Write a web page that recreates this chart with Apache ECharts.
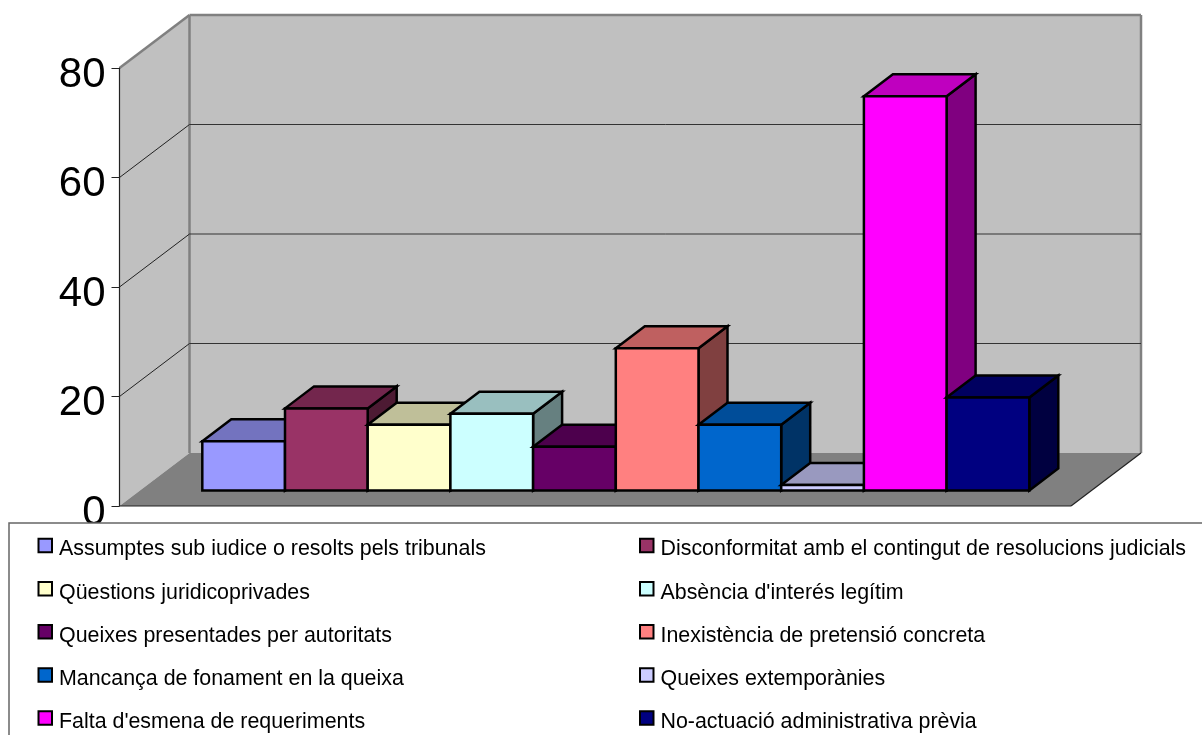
<!DOCTYPE html>
<html><head><meta charset="utf-8">
<style>html,body{margin:0;padding:0;background:#fff}#c{width:1202px;height:735px}</style>
<script src="https://cdn.jsdelivr.net/npm/echarts@6/dist/echarts.min.js"></script>
</head><body><div id="c"></div>
<script>
const categories = ["Assumptes sub iudice o resolts pels tribunals","Disconformitat amb el contingut de resolucions judicials","Qüestions juridicoprivades","Absència d'interés legítim","Queixes presentades per autoritats","Inexistència de pretensió concreta","Mancança de fonament en la queixa","Queixes extemporànies","Falta d'esmena de requeriments","No-actuació administrativa prèvia"];
const values = [9,15,12,14,8,26,12,1,72,17];
const colors = ["#9999FF","#993366","#FFFFCC","#CCFFFF","#660066","#FF8080","#0066CC","#CCCCFF","#FF00FF","#000080"];
const yTicks = [0,20,40,60,80];

const FONT = '"Liberation Sans", Arial, sans-serif';
const BAR_DX = 29, BAR_DY = -22, WALL_DX = 70, WALL_DY = -53;

function shade(hex, k){
  const n = parseInt(hex.slice(1),16);
  const c = [(n>>16)&255,(n>>8)&255,n&255].map(v=>Math.round(v*k));
  return 'rgb('+c.join(',')+')';
}
function barItem(color){
  return function(params, api){
    const v = api.value(1), i = api.value(0);
    const base = api.coord([i,0]), top = api.coord([i,v]);
    const w = api.size([1,0])[0];
    const l = base[0]-w/2, r = base[0]+w/2, b = base[1], t = top[1];
    const edge = {stroke:'#000',lineWidth:2.5,lineJoin:'miter',miterLimit:10};
    const poly = (pts,fill)=>({type:'polygon',shape:{points:pts},style:Object.assign({fill},edge)});
    return {type:'group',children:[
      poly([[r,b],[r+BAR_DX,b+BAR_DY],[r+BAR_DX,t+BAR_DY],[r,t]],shade(color,0.5)),
      poly([[l,t],[l+BAR_DX,t+BAR_DY],[r+BAR_DX,t+BAR_DY],[r,t]],shade(color,0.75)),
      poly([[l,b],[r,b],[r,t],[l,t]],color)
    ]};
  };
}
function wallItem(params, api){
  const v = api.value(0);
  const p = api.coord([0,v]), q = api.coord([1,v]);
  const line = (x1,y1,x2,y2,stroke,lw)=>({type:'line',shape:{x1,y1,x2,y2},style:{stroke,lineWidth:lw}});
  const children = [];
  if(v===0){
    const t = api.coord([0,80]);
    const dx=WALL_DX, dy=WALL_DY;
    children.push({type:'polygon',shape:{points:[[p[0],p[1]],[p[0]+dx,p[1]+dy],[p[0]+dx,t[1]+dy],[t[0],t[1]]]},style:{fill:'#C0C0C0'}});
    children.push({type:'polygon',shape:{points:[[p[0]+dx,t[1]+dy],[q[0]+dx,t[1]+dy],[q[0]+dx,q[1]+dy],[p[0]+dx,p[1]+dy]]},style:{fill:'#C0C0C0'}});
    children.push({type:'polygon',shape:{points:[[p[0],p[1]],[q[0],q[1]],[q[0]+dx,q[1]+dy],[p[0]+dx,p[1]+dy]]},style:{fill:'#808080'}});
    children.push(line(t[0],t[1],t[0]+dx,t[1]+dy,'#808080',2.5));
    children.push(line(t[0]+dx,t[1]+dy,q[0]+dx,t[1]+dy,'#808080',2.5));
    children.push(line(p[0]+dx,t[1]+dy,p[0]+dx,p[1]+dy,'#808080',2.5));
    children.push(line(q[0]+dx,t[1]+dy,q[0]+dx,q[1]+dy,'#808080',2.5));
    children.push(line(p[0],p[1],q[0],q[1],'#222',1.2));
    children.push(line(q[0],q[1],q[0]+dx,q[1]+dy,'#222',1.2));
  } else if(v<80){
    children.push(line(p[0],p[1],p[0]+WALL_DX,p[1]+WALL_DY,'#222',1));
    children.push(line(p[0]+WALL_DX,p[1]+WALL_DY,q[0]+WALL_DX,p[1]+WALL_DY,'#333',1));
  }
  return {type:'group',children};
}

const barSeries = categories.map((name,i)=>({
  type:'custom', name, xAxisIndex:0, yAxisIndex:0, z:5,
  coordinateSystem:'cartesian2d',
  itemStyle:{color:colors[i],borderColor:'#000',borderWidth:2.5},
  encode:{x:0,y:1},
  data:[[i,values[i]]],
  renderItem:barItem(colors[i])
}));
const wallSeries = {
  type:'custom', xAxisIndex:1, yAxisIndex:1, z:1, silent:true,
  data: yTicks.map(v=>[v]), encode:{y:0},
  renderItem:wallItem
};
const legendBase = {
  orient:'vertical', icon:'rect', itemWidth:13.5, itemHeight:13.5, itemGap:16.65, z:20,
  padding:0, selectedMode:false, formatter:'{a|{name}}',
  textStyle:{fontFamily:FONT,fontSize:21.4,color:'#000',
    rich:{a:{fontFamily:FONT,fontSize:21.4,color:'#000',height:16,lineHeight:16,padding:[8,0,0,2]}}}
};
const option = {
  animation:false, backgroundColor:'#fff',
  grid:[
    {left:202.3,top:52.5,width:827,height:438,containLabel:false},
    {left:119.5,top:68,width:951.5,height:438,containLabel:false}
  ],
  xAxis:[
    {type:'category',gridIndex:0,data:categories.map((_,i)=>i),show:false},
    {type:'value',gridIndex:1,min:0,max:1,show:false}
  ],
  yAxis:[
    {type:'value',gridIndex:0,min:0,max:80,interval:20,show:false},
    {type:'value',gridIndex:1,min:0,max:80,interval:20,z:2,
     axisLine:{show:true,lineStyle:{color:'#222',width:1.2}},
     axisTick:{show:true,length:8,lineStyle:{color:'#222',width:1}},
     splitLine:{show:false},
     axisLabel:{margin:14,formatter:'{a|{value}}',showMinLabel:true,showMaxLabel:true,
       rich:{a:{fontFamily:FONT,fontSize:42,color:'#000',padding:[14,0,0,0]}}}}
  ],
  legend:[
    Object.assign({},legendBase,{left:37.5,top:533.5,data:categories.filter((_,i)=>i%2===0)}),
    Object.assign({},legendBase,{left:639,top:533.5,data:categories.filter((_,i)=>i%2===1)})
  ],
  graphic:{elements:[
    {type:'rect',z:10,shape:{x:9,y:523,width:1300,height:300},style:{fill:'#fff',stroke:'#666',lineWidth:1.5}}
  ]},
  series:[wallSeries].concat(barSeries)
};
const chart = echarts.init(document.getElementById('c'),null,{renderer:'canvas'});
chart.setOption(option);
</script></body></html>
